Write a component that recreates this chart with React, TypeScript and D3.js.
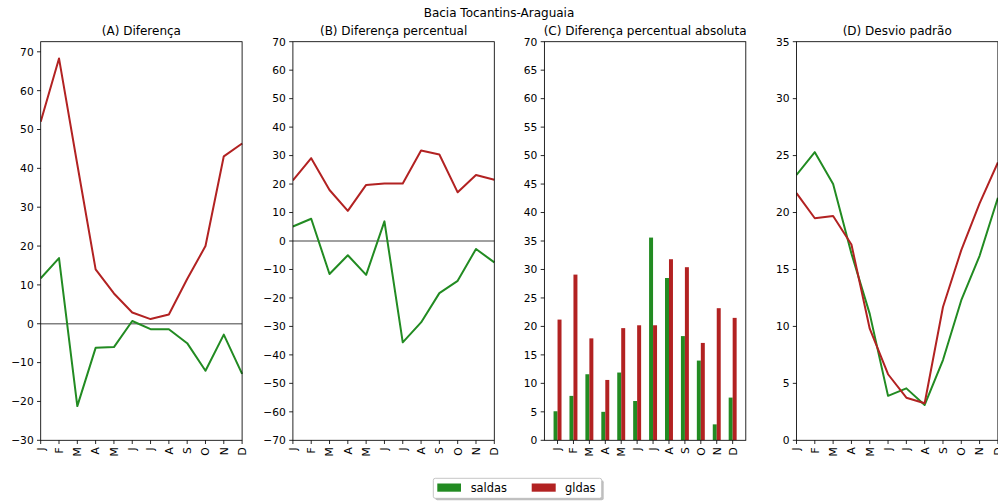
import React from "react";
import * as d3 from "d3";

const months = ["J", "F", "M", "A", "M", "J", "J", "A", "S", "O", "N", "D"];

const diffSaldas = [11.7, 16.9, -21.2, -6.2, -6.0, 0.7, -1.4, -1.4, -5.0, -12.1, -2.8, -12.9];
const diffGldas = [52.0, 68.3, 41.0, 14.0, 7.8, 2.9, 1.2, 2.4, 11.5, 20.0, 43.1, 46.4];

const pctSaldas = [5.1, 7.8, -11.6, -5.0, -11.9, 6.9, -35.6, -28.6, -18.3, -14.0, -2.8, -7.5];
const pctGldas = [21.3, 29.1, 17.9, 10.6, 19.7, 20.2, 20.2, 31.8, 30.4, 17.1, 23.2, 21.5];

const absSaldas = [5.1, 7.8, 11.6, 5.0, 11.9, 6.9, 35.6, 28.5, 18.3, 14.0, 2.8, 7.5];
const absGldas = [21.2, 29.1, 17.9, 10.6, 19.7, 20.2, 20.2, 31.8, 30.4, 17.1, 23.2, 21.5];

const sdSaldas = [23.3, 25.3, 22.5, 16.4, 11.1, 3.9, 4.56, 3.1, 7.05, 12.3, 16.2, 21.3];
const sdGldas = [21.7, 19.5, 19.7, 17.2, 9.8, 5.8, 3.74, 3.25, 11.7, 16.7, 20.8, 24.4];

const ticksA = d3.range(-30, 71, 10);
const ticksB = d3.range(-70, 71, 10);
const ticksC = d3.range(0, 71, 5);
const ticksD = d3.range(0, 36, 5);

const GREEN = "#228B22";
const RED = "#B22222";
const FONT = "DejaVu Sans";

const TOP = 41.7;
const BOTTOM = 440.3;
const WIDTH = 201.4;
const LEFTS = [40.7, 292.9, 544.4, 796.5];

type PanelProps = {
  left: number;
  title: string;
  domain: [number, number];
  ticks: number[];
  kind: "line" | "bar";
  saldas: number[];
  gldas: number[];
  zero?: boolean;
};

function Panel({ left, title, domain, ticks, kind, saldas, gldas, zero }: PanelProps) {
  const right = left + WIDTH;
  const y = d3.scaleLinear().domain(domain).range([BOTTOM, TOP]);
  const x =
    kind === "line"
      ? d3.scaleLinear().domain([0, 11]).range([left, right])
      : d3.scaleLinear().domain([-0.825, 11.825]).range([left, right]);
  const line = d3
    .line<number>()
    .x((_, i) => x(i))
    .y((v) => y(v));
  const clipId = "clip" + Math.round(left);
  const bw = x(0.25) - x(0);
  return (
    <g>
      <defs>
        <clipPath id={clipId}>
          <rect x={left} y={TOP} width={WIDTH + 1} height={BOTTOM - TOP} />
        </clipPath>
      </defs>
      <g clipPath={`url(#${clipId})`}>
        {zero && (
          <line x1={left} x2={right} y1={y(0)} y2={y(0)} stroke="#808080" strokeWidth={1.6} />
        )}
        {kind === "line" ? (
          <>
            <path d={line(saldas) || ""} fill="none" stroke={GREEN} strokeWidth={2} strokeLinejoin="round" />
            <path d={line(gldas) || ""} fill="none" stroke={RED} strokeWidth={2} strokeLinejoin="round" />
          </>
        ) : (
          <>
            {saldas.map((v, i) => (
              <rect key={"s" + i} x={x(i - 0.25)} width={bw} y={y(v)} height={y(0) - y(v)} fill={GREEN} />
            ))}
            {gldas.map((v, i) => (
              <rect key={"g" + i} x={x(i)} width={bw} y={y(v)} height={y(0) - y(v)} fill={RED} />
            ))}
          </>
        )}
      </g>
      <rect x={left} y={TOP} width={WIDTH} height={BOTTOM - TOP} fill="none" stroke="#000" strokeWidth={0.85} />
      {ticks.map((t) => (
        <g key={"yt" + t}>
          <line x1={left - 3.7} x2={left} y1={y(t)} y2={y(t)} stroke="#000" strokeWidth={0.85} />
          <text
            x={left - 7}
            y={y(t)}
            dy="0.36em"
            textAnchor="end"
            fontSize={10.7}
            fontFamily={FONT}
            fill="#000"
          >
            {t < 0 ? "\u2212" + Math.abs(t) : String(t)}
          </text>
        </g>
      ))}
      {months.map((m, i) => (
        <g key={"xt" + i}>
          <line x1={x(i)} x2={x(i)} y1={BOTTOM} y2={BOTTOM + 3.7} stroke="#000" strokeWidth={0.85} />
          <text
            transform={`translate(${x(i)},${BOTTOM + 7}) rotate(-90)`}
            textAnchor="end"
            dy="0.36em"
            fontSize={10.7}
            fontFamily={FONT}
            fill="#000"
          >
            {m}
          </text>
        </g>
      ))}
      <text
        x={left + WIDTH / 2}
        y={35.3}
        textAnchor="middle"
        fontSize={12}
        fontFamily={FONT}
        fill="#000"
      >
        {title}
      </text>
    </g>
  );
}

export default function App() {
  return (
    <svg
      width={998}
      height={503}
      style={{ position: "absolute", left: 0, top: 0, background: "#fff" }}
    >
      <rect x={0} y={0} width={998} height={503} fill="#fff" />
      <text x={499} y={16.7} textAnchor="middle" fontSize={12} fontFamily={FONT} fill="#000">
        Bacia Tocantins-Araguaia
      </text>
      <Panel left={LEFTS[0]} title="(A) Diferença" domain={[-30, 72.6]} ticks={ticksA} kind="line" saldas={diffSaldas} gldas={diffGldas} zero />
      <Panel left={LEFTS[1]} title="(B) Diferença percentual" domain={[-70, 70]} ticks={ticksB} kind="line" saldas={pctSaldas} gldas={pctGldas} zero />
      <Panel left={LEFTS[2]} title="(C) Diferença percentual absoluta" domain={[0, 70]} ticks={ticksC} kind="bar" saldas={absSaldas} gldas={absGldas} />
      <Panel left={LEFTS[3]} title="(D) Desvio padrão" domain={[0, 35]} ticks={ticksD} kind="line" saldas={sdSaldas} gldas={sdGldas} />
      <g>
        <rect x={435.3} y={480.3} width={168.4} height={20} rx={2} fill="#808080" opacity={0.5} />
        <rect x={433.3} y={478.3} width={168.4} height={20} rx={2} fill="#fff" stroke="#bbb" strokeWidth={0.85} />
        <rect x={437.3} y={483.5} width={23.7} height={8.2} fill={GREEN} />
        <text x={470.7} y={492} fontSize={11.4} fontFamily={FONT} fill="#000">saldas</text>
        <rect x={531.7} y={483.5} width={24} height={8.2} fill={RED} />
        <text x={565} y={492} fontSize={11.4} fontFamily={FONT} fill="#000">gldas</text>
      </g>
    </svg>
  );
}
